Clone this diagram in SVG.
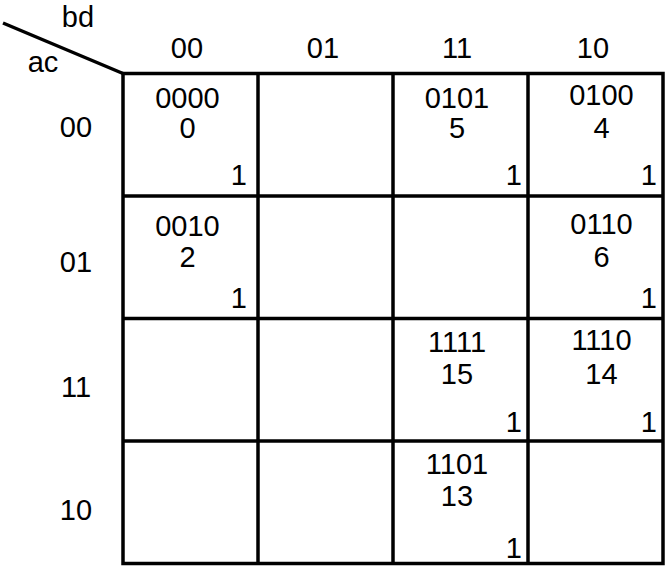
<svg xmlns="http://www.w3.org/2000/svg" width="665" height="567" viewBox="0 0 665 567">
<style>
text{font-family:"Liberation Sans",Arial,sans-serif;font-size:29px;fill:#000}
.c{text-anchor:middle}
.r{text-anchor:end}
.ln{stroke:#000;stroke-width:3.5;fill:none}
</style>
<rect width="665" height="567" fill="#fff"/>
<g id="connectors">
<line class="ln" x1="3" y1="23" x2="123" y2="73.5"/>
<rect class="ln" x="123" y="73.5" width="540" height="490"/>
<line class="ln" x1="258" y1="73.5" x2="258" y2="563.5"/>
<line class="ln" x1="393" y1="73.5" x2="393" y2="563.5"/>
<line class="ln" x1="528" y1="73.5" x2="528" y2="563.5"/>
<line class="ln" x1="123" y1="196" x2="663" y2="196"/>
<line class="ln" x1="123" y1="318.5" x2="663" y2="318.5"/>
<line class="ln" x1="123" y1="441" x2="663" y2="441"/>
</g>
<g id="axis-labels">
<text class="c" x="78" y="27">bd</text>
<text class="c" x="43" y="72">ac</text>
</g>
<g id="col-headers">
<text class="c" x="187" y="58">00</text>
<text class="c" x="323" y="58">01</text>
<text class="c" x="457" y="58">11</text>
<text class="c" x="593" y="58">10</text>
</g>
<g id="row-headers">
<text class="c" x="76" y="137">00</text>
<text class="c" x="76" y="272">01</text>
<text class="c" x="76" y="397">11</text>
<text class="c" x="76" y="520">10</text>
</g>
<g id="cell-0">
<text class="c" x="187.5" y="108">0000</text>
<text class="c" x="187.5" y="138">0</text>
<text class="r" x="247" y="185">1</text>
</g>
<g id="cell-5">
<text class="c" x="457" y="108">0101</text>
<text class="c" x="457" y="138">5</text>
<text class="r" x="522" y="185">1</text>
</g>
<g id="cell-4">
<text class="c" x="601.5" y="105">0100</text>
<text class="c" x="601.5" y="138">4</text>
<text class="r" x="657" y="185">1</text>
</g>
<g id="cell-2">
<text class="c" x="187.5" y="236">0010</text>
<text class="c" x="187.5" y="267">2</text>
<text class="r" x="247" y="308">1</text>
</g>
<g id="cell-6">
<text class="c" x="601.5" y="234">0110</text>
<text class="c" x="601.5" y="267">6</text>
<text class="r" x="657" y="308">1</text>
</g>
<g id="cell-15">
<text class="c" x="457" y="352">1111</text>
<text class="c" x="457" y="384">15</text>
<text class="r" x="522" y="432">1</text>
</g>
<g id="cell-14">
<text class="c" x="601.5" y="350">1110</text>
<text class="c" x="601.5" y="384">14</text>
<text class="r" x="657" y="432">1</text>
</g>
<g id="cell-13">
<text class="c" x="457" y="474">1101</text>
<text class="c" x="457" y="506">13</text>
<text class="r" x="522" y="558">1</text>
</g>
</svg>
